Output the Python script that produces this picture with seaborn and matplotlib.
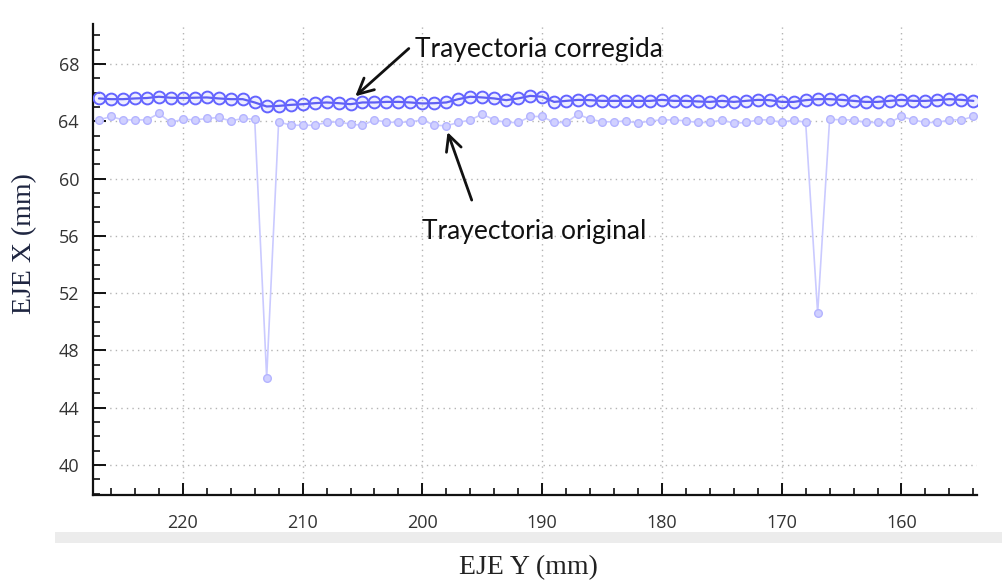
import numpy as np
import pandas as pd
import matplotlib
matplotlib.use("Agg")
import matplotlib.pyplot as plt
from matplotlib.ticker import MultipleLocator
from matplotlib.patches import Rectangle
import seaborn as sns

# Y-axis positions of the samples (mm), from 227 down to 154
eje_y = list(range(227, 153, -1))

# Corrected trajectory, X coordinate (mm)
x_corregida = [
    65.60, 65.55, 65.55, 65.60, 65.63, 65.72, 65.65, 65.63, 65.65, 65.67,
    65.60, 65.55, 65.55, 65.32, 65.04, 65.08, 65.15, 65.20, 65.27, 65.32,
    65.27, 65.20, 65.32, 65.32, 65.36, 65.36, 65.32, 65.25, 65.27, 65.32,
    65.55, 65.72, 65.67, 65.60, 65.48, 65.60, 65.78, 65.72, 65.36, 65.43,
    65.50, 65.48, 65.43, 65.43, 65.43, 65.43, 65.43, 65.50, 65.43, 65.43,
    65.39, 65.36, 65.43, 65.36, 65.43, 65.50, 65.48, 65.36, 65.36, 65.48,
    65.55, 65.55, 65.50, 65.43, 65.36, 65.36, 65.43, 65.50, 65.43, 65.43,
    65.48, 65.55, 65.50, 65.43,
]

# Original trajectory, X coordinate (mm)
x_original = [
    64.10, 64.34, 64.10, 64.10, 64.10, 64.55, 63.92, 64.15, 64.10, 64.20,
    64.27, 64.03, 64.20, 64.15, 46.10, 63.97, 63.73, 63.73, 63.73, 63.92,
    63.97, 63.80, 63.73, 64.10, 63.95, 63.92, 63.97, 64.10, 63.73, 63.69,
    63.92, 64.10, 64.50, 64.10, 63.92, 63.92, 64.34, 64.34, 63.92, 63.92,
    64.50, 64.15, 63.97, 63.97, 64.03, 63.87, 64.03, 64.10, 64.10, 64.03,
    63.92, 63.92, 64.10, 63.87, 63.92, 64.10, 64.10, 63.92, 64.10, 63.92,
    50.60, 64.15, 64.10, 64.10, 63.92, 63.92, 63.92, 64.34, 64.10, 63.92,
    63.92, 64.10, 64.10, 64.34,
]

x_ticks = [220, 210, 200, 190, 180, 170, 160]
y_ticks = [40, 44, 48, 52, 56, 60, 64, 68]

df = pd.DataFrame({"eje_y": eje_y, "corregida": x_corregida, "original": x_original})

sns.set_style("white")
plt.rcParams["font.family"] = ["Open Sans", "DejaVu Sans"]

fig = plt.figure(figsize=(10.02, 5.80), dpi=100)
ax = fig.add_axes([0.0928, 0.1466, 0.8822, 0.812])

sns.lineplot(data=df, x="eje_y", y="original", ax=ax, sort=False,
             color="#cacaff", linewidth=1.2, marker="o", markersize=5.5,
             markerfacecolor="#d0d0ff", markeredgecolor="#b4b4ff",
             markeredgewidth=1.0, zorder=3)
sns.lineplot(data=df, x="eje_y", y="corregida", ax=ax, sort=False,
             color="#2222ee", linewidth=1.6, marker="o", markersize=8.5,
             markerfacecolor=(0.82, 0.82, 1.0, 0.35), markeredgecolor="#6464ff",
             markeredgewidth=1.4, zorder=4)

ax.set_xlim(227.5, 153.7)
ax.set_ylim(37.9, 70.8)
ax.xaxis.set_major_locator(plt.FixedLocator(x_ticks))
ax.yaxis.set_major_locator(plt.FixedLocator(y_ticks))
ax.xaxis.set_minor_locator(MultipleLocator(2))
ax.yaxis.set_minor_locator(MultipleLocator(1))

ax.grid(True, which="major", color="#b4b4b4", linestyle=(0, (1, 3)), linewidth=1.0)
ax.set_axisbelow(True)

for side in ("top", "right"):
    ax.spines[side].set_visible(False)
for side in ("left", "bottom"):
    ax.spines[side].set_color("#111111")
    ax.spines[side].set_linewidth(1.6)

ax.tick_params(axis="x", which="both", bottom=True, top=False)
ax.tick_params(axis="y", which="both", left=True, right=False)
ax.tick_params(which="major", direction="in", length=9, width=1.4, color="#111111",
               labelsize=13, labelcolor="#333333")
ax.tick_params(axis="x", which="major", pad=14)
ax.tick_params(axis="y", which="major", pad=10)
ax.tick_params(which="minor", direction="in", length=5, width=1.2, color="#111111")

ax.set_xlabel("")
ax.set_ylabel("")

# axis titles
fig.text(0.527, 0.021, "EJE Y (mm)", ha="center", va="center",
         family=["Liberation Serif", "DejaVu Serif"], fontsize=20, color="#222222")
fig.text(0.025, 0.58, "EJE X (mm)", ha="center", va="center", rotation=90,
         family=["Liberation Serif", "DejaVu Serif"], fontsize=20, color="#1e2540")

# light separator band under the plot
fig.patches.append(Rectangle((0.055, 0.064), 0.945, 0.018, transform=fig.transFigure,
                             facecolor="#ececec", edgecolor="none", zorder=0))

# callouts
ax.annotate("Trayectoria corregida", xy=(205.6, 65.75), xytext=(200.6, 69.05),
            ha="left", va="center", fontsize=19, color="#111111",
            family=["Lato", "DejaVu Sans"],
            arrowprops=dict(arrowstyle="->", color="#111111", lw=2.0,
                            mutation_scale=28, shrinkA=3, shrinkB=0,
                            relpos=(0.0, 0.75)))
ax.annotate("Trayectoria original", xy=(197.9, 63.25), xytext=(200.0, 56.3),
            ha="left", va="center", fontsize=19, color="#111111",
            family=["Lato", "DejaVu Sans"],
            arrowprops=dict(arrowstyle="->", color="#111111", lw=2.0,
                            mutation_scale=28, shrinkA=12, shrinkB=0,
                            relpos=(0.25, 1.0)))

fig.savefig("out.png", dpi=100)
